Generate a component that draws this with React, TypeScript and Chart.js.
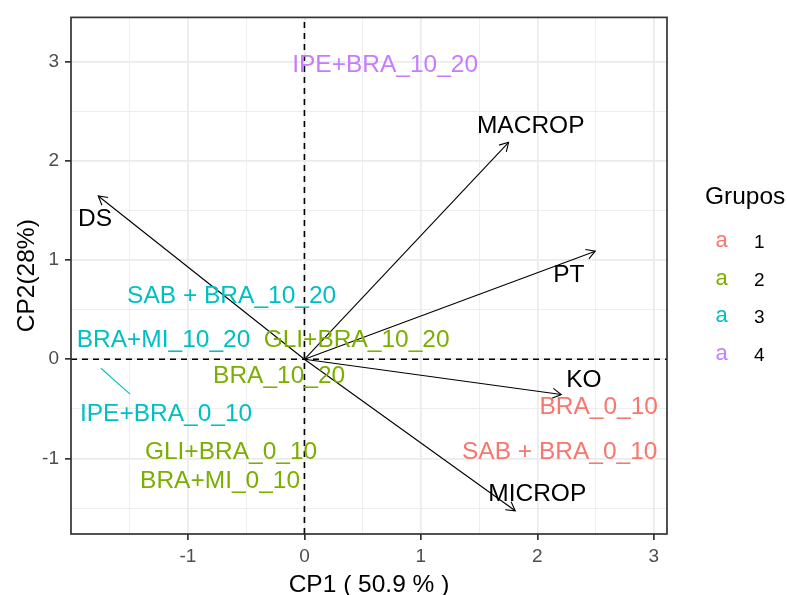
import React, { useEffect, useRef } from 'react';
import { Chart, registerables } from 'chart.js';

Chart.register(...registerables);

// ---- Data ----
const varNames = ['DS', 'MACROP', 'PT', 'KO', 'MICROP'];
const varX = [-1.77, 1.753, 2.497, 2.205, 1.81];
const varY = [1.646, 2.188, 1.09, -0.356, -1.528];
const varLabelX = [-1.798, 1.943, 2.27, 2.399, 1.999];
const varLabelY = [1.435, 2.367, 0.871, -0.196, -1.339];

const sampleNames = [
  'IPE+BRA_10_20',
  'SAB + BRA_10_20',
  'BRA+MI_10_20',
  'GLI+BRA_10_20',
  'BRA_10_20',
  'IPE+BRA_0_10',
  'GLI+BRA_0_10',
  'BRA+MI_0_10',
  'BRA_0_10',
  'SAB + BRA_0_10',
];
const sampleX = [0.693, -0.625, -1.21, 0.448, -0.217, -1.188, -0.63, -0.724, 2.527, 2.192];
const sampleY = [2.986, 0.655, 0.211, 0.211, -0.151, -0.534, -0.916, -1.208, -0.463, -0.916];
const sampleGroup = [4, 3, 3, 2, 2, 3, 2, 2, 1, 1];

// repel segment joining IPE+BRA_0_10 to its point
const repelX = [-1.747, -1.497];
const repelY = [-0.091, -0.352];

const groups = ['1', '2', '3', '4'];
const groupColors = ['#F8766D', '#7CAE00', '#00BFC4', '#C77CFF'];

const xMajor = [-1, 0, 1, 2, 3];
const xMinor = [-1.5, -0.5, 0.5, 1.5, 2.5];
const yMajor = [-1, 0, 1, 2, 3];
const yMinor = [-1.5, -0.5, 0.5, 1.5, 2.5];
const xRange = [-2.004, 3.113];
const yRange = [-1.762, 3.447];

const xTitle = 'CP1 ( 50.9 % )';
const yTitle = 'CP2(28%)';
const legendTitle = 'Grupos';

const FONT = '"Liberation Sans", Arial, sans-serif';
const LABEL_SIZE = 24.5;

const biplotPlugin = {
  id: 'biplot',
  beforeDatasetsDraw(chart: any) {
    const { ctx, chartArea, scales } = chart;
    const x0 = scales.x.getPixelForValue(0);
    const y0 = scales.y.getPixelForValue(0);
    ctx.save();
    ctx.strokeStyle = '#000000';
    ctx.lineWidth = 1.6;
    ctx.setLineDash([6, 5]);
    ctx.beginPath();
    ctx.moveTo(chartArea.left, y0);
    ctx.lineTo(chartArea.right, y0);
    ctx.moveTo(x0, chartArea.bottom);
    ctx.lineTo(x0, chartArea.top);
    ctx.stroke();
    ctx.restore();
  },
  afterDatasetsDraw(chart: any) {
    const { ctx, chartArea, scales } = chart;
    const xs = scales.x;
    const ys = scales.y;
    const ox = xs.getPixelForValue(0);
    const oy = ys.getPixelForValue(0);
    ctx.save();
    // arrow heads
    ctx.strokeStyle = '#000000';
    ctx.lineWidth = 1.1;
    for (let i = 0; i < varNames.length; i++) {
      const tx = xs.getPixelForValue(varX[i]);
      const ty = ys.getPixelForValue(varY[i]);
      const ang = Math.atan2(ty - oy, tx - ox);
      const L = 10;
      const a = Math.PI / 6;
      ctx.beginPath();
      ctx.moveTo(tx - L * Math.cos(ang - a), ty - L * Math.sin(ang - a));
      ctx.lineTo(tx, ty);
      ctx.lineTo(tx - L * Math.cos(ang + a), ty - L * Math.sin(ang + a));
      ctx.stroke();
    }
    // sample labels
    ctx.textAlign = 'center';
    ctx.textBaseline = 'alphabetic';
    ctx.font = `${LABEL_SIZE}px ${FONT}`;
    const capHalf = LABEL_SIZE * 0.358;
    for (let i = 0; i < sampleNames.length; i++) {
      ctx.fillStyle = groupColors[sampleGroup[i] - 1];
      const px = xs.getPixelForValue(sampleX[i]);
      const py = ys.getPixelForValue(sampleY[i]);
      ctx.fillText(sampleNames[i], px, py + capHalf);
    }
    // variable labels
    ctx.fillStyle = '#000000';
    for (let i = 0; i < varNames.length; i++) {
      const px = xs.getPixelForValue(varLabelX[i]);
      const py = ys.getPixelForValue(varLabelY[i]);
      ctx.fillText(varNames[i], px, py + capHalf);
    }
    // panel border
    ctx.strokeStyle = '#333333';
    ctx.lineWidth = 1.7;
    ctx.strokeRect(chartArea.left, chartArea.top, chartArea.right - chartArea.left, chartArea.bottom - chartArea.top);
    ctx.restore();
  },
  afterDraw(chart: any) {
    const { ctx, chartArea } = chart;
    ctx.save();
    ctx.fillStyle = '#000000';
    ctx.font = `${LABEL_SIZE}px ${FONT}`;
    // x title
    ctx.textAlign = 'center';
    ctx.textBaseline = 'alphabetic';
    ctx.fillText(xTitle, (chartArea.left + chartArea.right) / 2, chartArea.bottom + 57.6);
    // y title
    ctx.save();
    ctx.translate(chartArea.left - 37.4, (chartArea.top + chartArea.bottom) / 2);
    ctx.rotate(-Math.PI / 2);
    ctx.fillText(yTitle, 0, 0);
    ctx.restore();
    // legend
    const lx = chartArea.right + 38;
    ctx.textAlign = 'left';
    ctx.fillText(legendTitle, lx, 203.6);
    for (let i = 0; i < groups.length; i++) {
      const cy = 241.5 + i * 37.5;
      ctx.textAlign = 'center';
      ctx.font = `22px ${FONT}`;
      ctx.fillStyle = groupColors[i];
      ctx.fillText('a', lx + 16.5, cy + 5.7);
      ctx.textAlign = 'left';
      ctx.font = `19px ${FONT}`;
      ctx.fillStyle = '#000000';
      ctx.fillText(groups[i], lx + 49, cy + 6.8);
    }
    ctx.restore();
  },
};

export default function App() {
  const canvasRef = useRef<HTMLCanvasElement | null>(null);

  useEffect(() => {
    const canvas = canvasRef.current;
    if (!canvas) return;

    const datasets: any[] = [];
    for (let i = 0; i < varNames.length; i++) {
      datasets.push({
        label: varNames[i],
        data: [
          { x: 0, y: 0 },
          { x: varX[i], y: varY[i] },
        ],
        showLine: true,
        borderColor: '#000000',
        borderWidth: 1.1,
        pointRadius: 0,
        fill: false,
      });
    }
    datasets.push({
      label: 'repel',
      data: repelX.map((v, i) => ({ x: v, y: repelY[i] })),
      showLine: true,
      borderColor: groupColors[2],
      borderWidth: 1.1,
      pointRadius: 0,
    });
    datasets.push({
      label: 'samples',
      data: sampleX.map((v, i) => ({ x: v, y: sampleY[i] })),
      pointRadius: 0,
    });

    const isMajorX = (v: number) => xMajor.includes(v);
    const isMajorY = (v: number) => yMajor.includes(v);

    const chart = new Chart(canvas, {
      type: 'scatter',
      data: { datasets },
      plugins: [biplotPlugin],
      options: {
        animation: false,
        responsive: false,
        devicePixelRatio: 1,
        layout: { padding: { left: 0, top: 17, right: 120, bottom: 0 } },
        plugins: { legend: { display: false }, tooltip: { enabled: false } },
        scales: {
          x: {
            type: 'linear',
            min: xRange[0],
            max: xRange[1],
            afterBuildTicks: (s: any) => {
              s.ticks = [...xMinor, ...xMajor].sort((a, b) => a - b).map((v) => ({ value: v }));
            },
            afterFit: (s: any) => {
              s.height = 61;
            },
            border: { display: false },
            grid: {
              color: '#EBEBEB',
              lineWidth: (c: any) => (c.tick && isMajorX(c.tick.value) ? 1.7 : 0.85),
              drawTicks: true,
              tickLength: 6,
              tickWidth: 1.7,
              tickColor: (c: any) => (c.tick && isMajorX(c.tick.value) ? '#333333' : 'rgba(0,0,0,0)'),
            },
            ticks: {
              autoSkip: false,
              maxRotation: 0,
              padding: 5,
              color: '#4D4D4D',
              font: { family: FONT, size: 19 },
              callback: (v: any) => (isMajorX(Number(v)) ? String(v) : ''),
            },
          },
          y: {
            type: 'linear',
            min: yRange[0],
            max: yRange[1],
            afterBuildTicks: (s: any) => {
              s.ticks = [...yMinor, ...yMajor].sort((a, b) => a - b).map((v) => ({ value: v }));
            },
            afterFit: (s: any) => {
              s.width = 71;
            },
            border: { display: false },
            grid: {
              color: '#EBEBEB',
              lineWidth: (c: any) => (c.tick && isMajorY(c.tick.value) ? 1.7 : 0.85),
              drawTicks: true,
              tickLength: 6,
              tickWidth: 1.7,
              tickColor: (c: any) => (c.tick && isMajorY(c.tick.value) ? '#333333' : 'rgba(0,0,0,0)'),
            },
            ticks: {
              autoSkip: false,
              padding: 6,
              color: '#4D4D4D',
              font: { family: FONT, size: 19 },
              callback: (v: any) => (isMajorY(Number(v)) ? String(v) : ''),
            },
          },
        },
      } as any,
    });

    return () => {
      chart.destroy();
    };
  }, []);

  return (
    <div style={{ position: 'absolute', left: 0, top: 0, width: 787, height: 595, background: '#ffffff' }}>
      <canvas ref={canvasRef} width={787} height={595} style={{ width: 787, height: 595, display: 'block' }} />
    </div>
  );
}
